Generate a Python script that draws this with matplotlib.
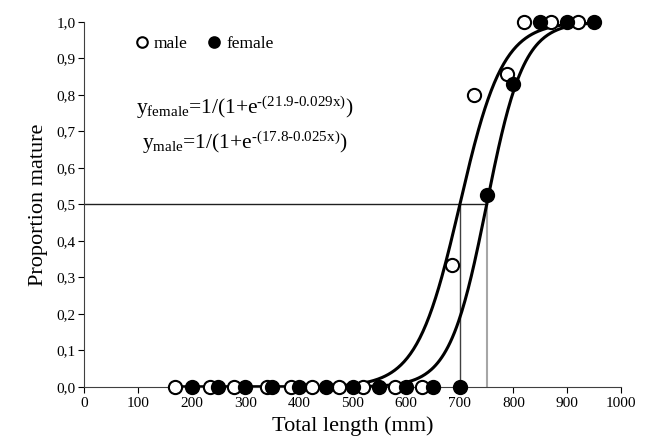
import numpy as np
import matplotlib.pyplot as plt
from matplotlib.ticker import FuncFormatter

plt.rcParams['font.family'] = ['Liberation Serif', 'DejaVu Serif']
plt.rcParams['mathtext.fontset'] = 'custom'
plt.rcParams['mathtext.rm'] = 'Liberation Serif'
plt.rcParams['mathtext.it'] = 'Liberation Serif:italic'
plt.rcParams['mathtext.default'] = 'regular'

male_x = [170, 235, 280, 340, 385, 425, 475, 520, 580, 630, 685, 726, 787, 820, 870, 920]
male_y = [0, 0, 0, 0, 0, 0, 0, 0, 0, 0, 0.333, 0.8, 0.857, 1, 1, 1]
female_x = [200, 250, 300, 350, 400, 450, 500, 550, 600, 650, 700, 750, 800, 850, 900, 950]
female_y = [0, 0, 0, 0, 0, 0, 0, 0, 0, 0, 0, 0.525, 0.83, 1, 1, 1]

# logistic curves as drawn
male_a, male_b = 17.5, 0.025
female_a, female_b = 21.75, 0.029
l50_male, l50_female = 700, 750

x_ticks = list(range(0, 1001, 100))
y_ticks = [i / 10 for i in range(11)]

fig = plt.figure(figsize=(6.48, 4.46), dpi=100)
ax = fig.add_axes([0.13, 0.1323, 0.828, 0.8184])

xx = np.linspace(170, 950, 400)
ax.plot(xx, 1 / (1 + np.exp(male_a - male_b * xx)), color='k', lw=2.2, zorder=2)
ax.plot(xx, 1 / (1 + np.exp(female_a - female_b * xx)), color='k', lw=2.2, zorder=2)

ax.plot([0, l50_female], [0.5, 0.5], color='#202020', lw=1, zorder=1)
ax.plot([l50_male, l50_male], [0, 0.5], color='#404040', lw=1, zorder=1)
ax.plot([l50_female, l50_female], [0, 0.5], color='#a6a6a6', lw=1.5, zorder=1)

ax.plot(male_x, male_y, 'o', ms=9.5, mfc='white', mec='k', mew=1.5, ls='none',
        label='male', zorder=3, clip_on=False)
ax.plot(female_x, female_y, 'o', ms=9.5, mfc='k', mec='k', mew=1.5, ls='none',
        label='female', zorder=4, clip_on=False)

ax.set_xlim(0, 1000)
ax.set_ylim(0, 1.0)
ax.set_xticks(x_ticks)
ax.set_yticks(y_ticks)
ax.yaxis.set_major_formatter(FuncFormatter(lambda v, p: f'{v:.1f}'.replace('.', ',')))
ax.tick_params(labelsize=11, direction='out', length=4, width=0.8, colors='k')
ax.tick_params(axis='y', pad=2)
for s in ['top', 'right']:
    ax.spines[s].set_visible(False)
for s in ['left', 'bottom']:
    ax.spines[s].set_color('#404040')

ax.set_xlabel('Total length (mm)', fontsize=16, labelpad=4)
ax.set_ylabel('Proportion mature', fontsize=16, labelpad=6)

ax.legend(loc='upper left', bbox_to_anchor=(0.075, 0.98), ncol=2, frameon=False,
          fontsize=12.5, handletextpad=0.1, columnspacing=0.9, markerscale=0.8,
          handlelength=1.2, borderaxespad=0)

ax.text(0.30, 0.765, r'$y_{female}$=1/(1+e$^{\text{-(21.9-0.029x)}}$)', transform=ax.transAxes,
        ha='center', va='center', fontsize=15.5)
ax.text(0.30, 0.668, r'$y_{male}$=1/(1+e$^{\text{-(17.8-0.025x)}}$)', transform=ax.transAxes,
        ha='center', va='center', fontsize=15.5)

fig.savefig('out.png', dpi=100)
